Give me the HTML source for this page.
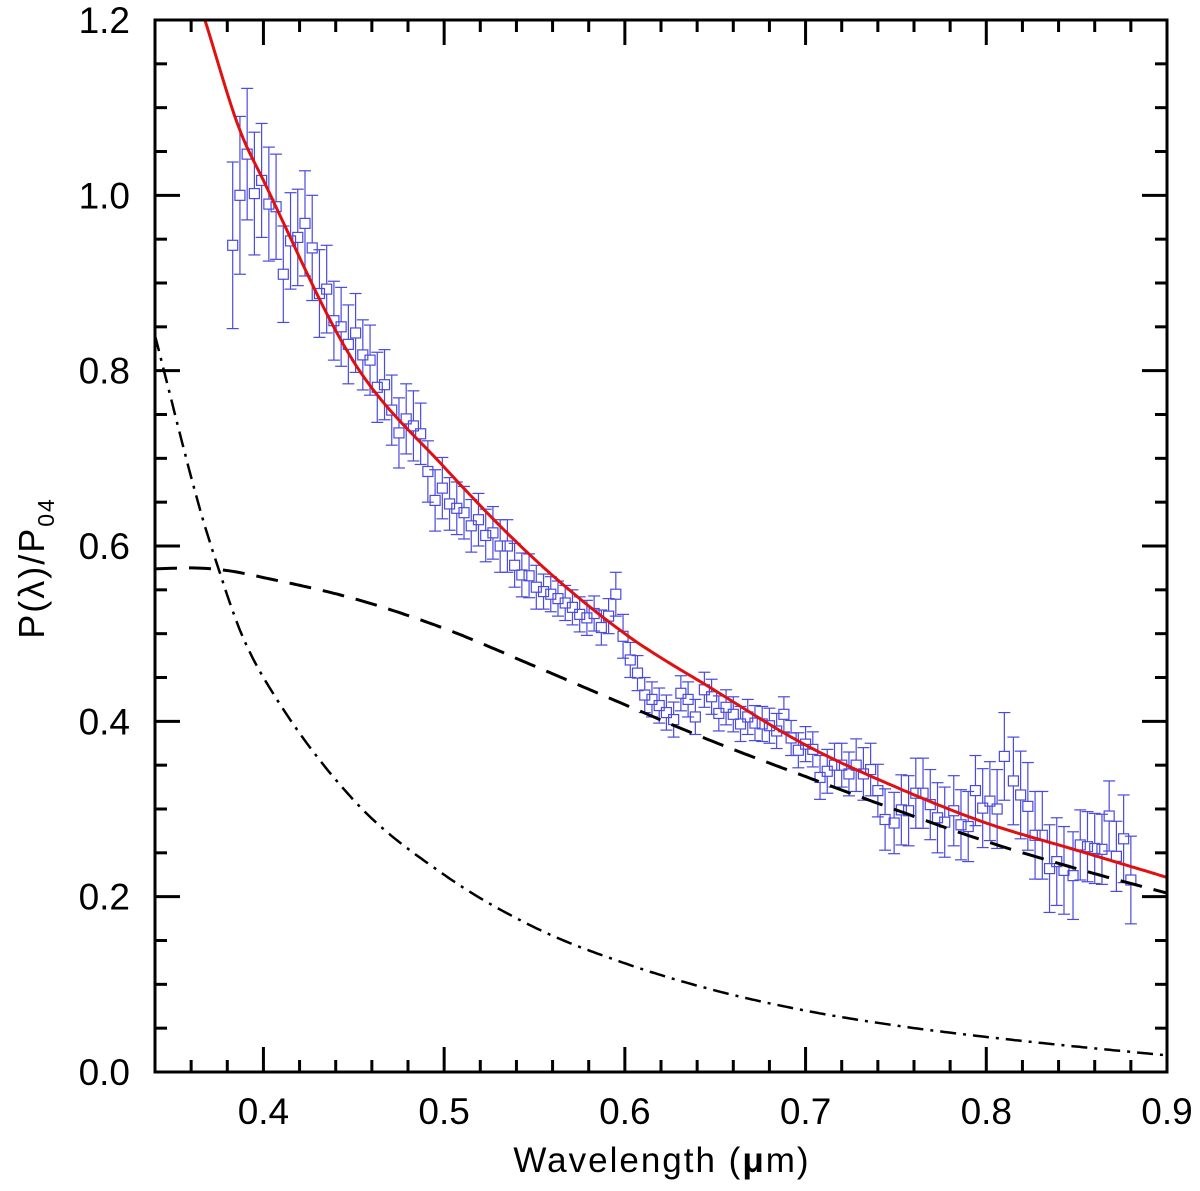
<!DOCTYPE html>
<html><head><meta charset="utf-8"><style>
html,body{margin:0;padding:0;background:#fff;}
svg text{font-family:"Liberation Sans","DejaVu Sans",sans-serif;fill:#000;}
</style></head><body>
<svg id="chart" width="1200" height="1186" viewBox="0 0 1200 1186" xmlns="http://www.w3.org/2000/svg">
<g id="marks"></g>
<g id="axes"></g>
<text x="662" y="1172" font-size="35" text-anchor="middle" letter-spacing="2">Wavelength (<tspan font-weight="bold">μ</tspan>m)</text>
<text transform="translate(44,568) rotate(-90)" font-size="36" text-anchor="middle" letter-spacing="2">P(λ)/P<tspan font-size="23" dy="10">04</tspan></text>
</svg>
<script>
const obsWave = [0.383,0.387,0.391,0.395,0.399,0.403,0.407,0.411,0.415,0.419,0.423,0.427,0.431,0.435,0.439,0.443,0.447,0.451,0.455,0.459,0.463,0.467,0.471,0.475,0.479,0.483,0.487,0.491,0.495,0.499,0.503,0.507,0.511,0.515,0.519,0.523,0.527,0.531,0.535,0.539,0.543,0.547,0.551,0.555,0.559,0.563,0.567,0.571,0.575,0.579,0.583,0.587,0.591,0.595,0.599,0.603,0.607,0.611,0.615,0.619,0.623,0.627,0.631,0.635,0.639,
0.644,0.648,0.652,0.656,0.660,0.664,0.668,0.672,0.676,0.680,0.684,0.688,0.692,0.696,0.700,0.704,0.708,0.712,0.716,0.720,0.724,0.728,0.732,0.736,0.740,0.744,0.749,0.753,0.757,0.761,0.765,0.769,0.773,0.777,0.782,0.786,0.790,0.794,0.798,0.802,0.806,0.810,0.815,0.819,0.823,0.827,0.831,0.835,0.839,0.843,0.848,0.852,0.856,0.860,0.864,0.868,0.872,0.876,0.880,0.884];
const obsValue = [0.943,1.0,1.047,1.002,1.017,0.99,0.987,0.91,0.948,0.952,0.968,0.94,0.888,0.893,0.857,0.85,0.83,0.843,0.818,0.812,0.781,0.784,0.755,0.729,0.745,0.737,0.728,0.685,0.652,0.666,0.648,0.643,0.638,0.623,0.63,0.612,0.615,0.6,0.6,0.578,0.567,0.566,0.553,0.548,0.545,0.54,0.535,0.53,0.522,0.518,0.523,0.507,0.52,0.545,0.497,0.47,0.455,0.43,0.425,0.418,0.41,0.402,0.432,0.425,0.405,
0.436,0.428,0.409,0.416,0.408,0.397,0.405,0.398,0.397,0.395,0.389,0.408,0.381,0.367,0.374,0.368,0.336,0.343,0.350,0.350,0.340,0.350,0.340,0.345,0.321,0.288,0.284,0.299,0.298,0.318,0.318,0.305,0.290,0.285,0.298,0.282,0.280,0.321,0.301,0.309,0.300,0.360,0.332,0.316,0.303,0.270,0.270,0.232,0.240,0.230,0.224,0.259,0.257,0.255,0.254,0.292,0.246,0.266,0.219];
const obsError = [0.095,0.09,0.075,0.07,0.065,0.065,0.06,0.055,0.055,0.055,0.06,0.06,0.05,0.05,0.045,0.045,0.045,0.045,0.04,0.04,0.04,0.04,0.04,0.04,0.04,0.04,0.035,0.035,0.035,0.035,0.03,0.03,0.03,0.03,0.03,0.03,0.03,0.03,0.03,0.025,0.025,0.025,0.025,0.02,0.02,0.02,0.02,0.02,0.02,0.02,0.02,0.02,0.02,0.025,0.025,0.02,0.02,0.02,0.02,0.02,0.02,0.02,0.02,0.02,0.02,
0.02,0.02,0.02,0.02,0.02,0.02,0.02,0.02,0.02,0.02,0.02,0.02,0.02,0.02,0.02,0.02,0.025,0.025,0.025,0.025,0.025,0.03,0.03,0.03,0.03,0.035,0.035,0.04,0.04,0.04,0.04,0.04,0.04,0.04,0.04,0.04,0.04,0.04,0.045,0.045,0.045,0.05,0.05,0.05,0.05,0.05,0.05,0.05,0.05,0.05,0.05,0.04,0.04,0.04,0.04,0.04,0.04,0.05,0.05,0.055];
const fitWave = [0.3676,0.387,0.40,0.45,0.50,0.55,0.60,0.65,0.70,0.75,0.80,0.85,0.90];
const fitValue = [1.2,1.074,1.017,0.81,0.69,0.585,0.50,0.435,0.373,0.325,0.284,0.253,0.222];
const dashWave = [0.34,0.36,0.38,0.40,0.45,0.50,0.55,0.60,0.65,0.70,0.75,0.80,0.85,0.90];
const dashValue = [0.574,0.575,0.572,0.564,0.54,0.506,0.463,0.419,0.376,0.337,0.299,0.263,0.232,0.204];
const dotWave = [0.34,0.365,0.375,0.387,0.40,0.45,0.50,0.55,0.60,0.65,0.70,0.75,0.80,0.85,0.90];
const dotValue = [0.84,0.641,0.575,0.504,0.45,0.31,0.225,0.165,0.124,0.093,0.07,0.053,0.04,0.029,0.019];
const xTicks = [0.4,0.5,0.6,0.7,0.8,0.9];
const xTickLabels = ["0.4","0.5","0.6","0.7","0.8","0.9"];
const yTicks = [0.0,0.2,0.4,0.6,0.8,1.0,1.2];
const yTickLabels = ["0.0","0.2","0.4","0.6","0.8","1.0","1.2"];

const L=155,R=1167,T=20,B=1072,X0=0.34,X1=0.9,Y0=0,Y1=1.2;
const sx=v=>L+(v-X0)/(X1-X0)*(R-L);
const sy=v=>B-(v-Y0)/(Y1-Y0)*(B-T);
const NS="http://www.w3.org/2000/svg";
const marks=document.getElementById('marks'), axes=document.getElementById('axes');
function mk(tag,attrs,parent){const e=document.createElementNS(NS,tag);for(const k in attrs)e.setAttribute(k,attrs[k]);parent.appendChild(e);return e;}

const defs=mk('defs',{},marks);
const cp=mk('clipPath',{id:'clip'},defs);
mk('rect',{x:L,y:T,width:R-L,height:B-T},cp);
const plot=mk('g',{'clip-path':'url(#clip)'},marks);

function interp(xs,ys){
  const n=xs.length,d=[],m=[];
  for(let i=0;i<n-1;i++)d.push((ys[i+1]-ys[i])/(xs[i+1]-xs[i]));
  m[0]=d[0];m[n-1]=d[n-2];
  for(let i=1;i<n-1;i++)m[i]=(d[i-1]*d[i]<=0)?0:(d[i-1]+d[i])/2;
  return x=>{let i=0;while(i<n-2&&x>xs[i+1])i++;
    const h=xs[i+1]-xs[i],t=(x-xs[i])/h,t2=t*t,t3=t2*t;
    return (2*t3-3*t2+1)*ys[i]+(t3-2*t2+t)*h*m[i]+(-2*t3+3*t2)*ys[i+1]+(t3-t2)*h*m[i+1];};
}
function curvePath(xs,ys){
  const f=interp(xs,ys);let d='';
  const a=xs[0],b=xs[xs.length-1];
  for(let k=0;k<=300;k++){const x=a+(b-a)*k/300;d+=(k?'L':'M')+sx(x).toFixed(1)+','+sy(f(x)).toFixed(1);}
  return d;
}

for(let i=0;i<obsValue.length;i++){
  const g=mk('g',{},plot);
  
  
  const x=sx(obsWave[i]),yt=sy(obsValue[i]+obsError[i]),yb=sy(obsValue[i]-obsError[i]),y=sy(obsValue[i]);
  const st={stroke:'#4a4ae0','stroke-width':1.2,fill:'none'};
  mk('line',Object.assign({x1:x,x2:x,y1:yt,y2:y-5},st),g);
  mk('line',Object.assign({x1:x,x2:x,y1:y+5,y2:yb},st),g);
  mk('line',Object.assign({x1:x-6,x2:x+6,y1:yt,y2:yt},st),g);
  mk('line',Object.assign({x1:x-6,x2:x+6,y1:yb,y2:yb},st),g);
  mk('rect',Object.assign({x:x-5,y:y-5,width:10,height:10},st),g);
}
const p1=mk('path',{d:curvePath(dashWave,dashValue),stroke:'#000','stroke-width':3,fill:'none','stroke-dasharray':'22,12'},plot);


const p2=mk('path',{d:curvePath(dotWave,dotValue),stroke:'#000','stroke-width':2.5,fill:'none','stroke-dasharray':'16,7,3,7'},plot);


const p3=mk('path',{d:curvePath(fitWave,fitValue),stroke:'#e01010','stroke-width':3,fill:'none'},plot);



const fr=mk('rect',{x:L,y:T,width:R-L,height:B-T,fill:'none',stroke:'#000','stroke-width':3},axes);


for(let k=0;k<=28;k++){
  const v=0.34+k*0.02; if(v>0.9001)break;
  const major=Math.abs(v*10-Math.round(v*10))<1e-6;
  const len=major?25:12,x=sx(v);
  mk('line',{x1:x,x2:x,y1:B,y2:B-len,stroke:'#000','stroke-width':3},axes);
  mk('line',{x1:x,x2:x,y1:T,y2:T+len,stroke:'#000','stroke-width':3},axes);
}
xTicks.forEach((v,i)=>{const t=mk('text',{x:sx(v),y:B+52,'font-size':37,'text-anchor':'middle'},axes);t.textContent=xTickLabels[i];
  
  });
for(let k=0;k<=24;k++){
  const v=k*0.05,major=k%4===0,len=major?25:12,y=sy(v);
  mk('line',{x1:L,x2:L+len,y1:y,y2:y,stroke:'#000','stroke-width':3},axes);
  mk('line',{x1:R,x2:R-len,y1:y,y2:y,stroke:'#000','stroke-width':3},axes);
}
yTicks.forEach((v,i)=>{const t=mk('text',{x:130,y:sy(v)+13,'font-size':37,'text-anchor':'end'},axes);t.textContent=yTickLabels[i];
  
  });
</script>
</body></html>
